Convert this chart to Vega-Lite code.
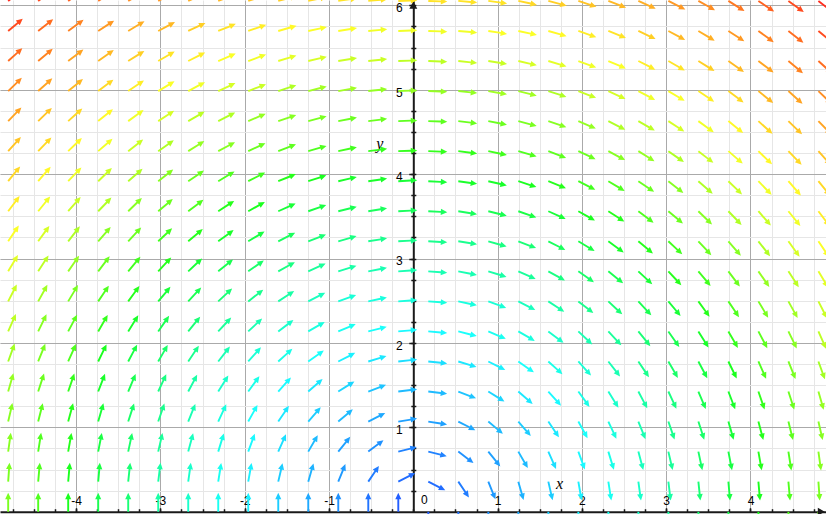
{
"$schema":"https://vega.github.io/schema/vega-lite/v6.json",
"width":826,"height":511.7,
"autosize":{"type":"none"},
"padding":{"left":0,"top":0,"right":0,"bottom":2.3},
"background":"#ffffff",
"config":{"view":{"stroke":null},"locale":{"number":{"decimal":".","thousands":",","grouping":[3],"currency":["$",""],"minus":"-"}}},
"resolve":{"scale":{"x":"independent","y":"independent"},"axis":{"x":"independent","y":"independent"}},
"data":{"values":[
{"x":-4.806,"y":0,"a":-90,"r":4.8},{"x":-4.45,"y":0,"a":-90,"r":4.5},{"x":-4.094,"y":0,"a":-90,"r":4.1},{"x":-3.738,"y":0,"a":-90,"r":3.7},{"x":-3.382,"y":0,"a":-90,"r":3.4},{"x":-3.026,"y":0,"a":-90,"r":3.0},{"x":-2.67,"y":0,"a":-90,"r":2.7},{"x":-2.314,"y":0,"a":-90,"r":2.3},{"x":-1.958,"y":0,"a":-90,"r":2.0},{"x":-1.602,"y":0,"a":-90,"r":1.6},{"x":-1.246,"y":0,"a":-90,"r":1.2},{"x":-0.89,"y":0,"a":-90,"r":0.9},{"x":-0.534,"y":0,"a":-90,"r":0.5},{"x":-0.178,"y":0,"a":-90,"r":0.2},
{"x":0.178,"y":0,"a":90,"r":0.2},{"x":0.534,"y":0,"a":90,"r":0.5},{"x":0.89,"y":0,"a":90,"r":0.9},{"x":1.246,"y":0,"a":90,"r":1.2},{"x":1.602,"y":0,"a":90,"r":1.6},{"x":1.958,"y":0,"a":90,"r":2.0},{"x":2.314,"y":0,"a":90,"r":2.3},{"x":2.67,"y":0,"a":90,"r":2.7},{"x":3.026,"y":0,"a":90,"r":3.0},{"x":3.382,"y":0,"a":90,"r":3.4},{"x":3.738,"y":0,"a":90,"r":3.7},{"x":4.094,"y":0,"a":90,"r":4.1},{"x":4.45,"y":0,"a":90,"r":4.5},{"x":4.806,"y":0,"a":90,"r":4.8},
{"x":-4.806,"y":0.356,"a":-86,"r":4.8},{"x":-4.45,"y":0.356,"a":-85,"r":4.5},{"x":-4.094,"y":0.356,"a":-85,"r":4.1},{"x":-3.738,"y":0.356,"a":-85,"r":3.8},{"x":-3.382,"y":0.356,"a":-84,"r":3.4},{"x":-3.026,"y":0.356,"a":-83,"r":3.0},{"x":-2.67,"y":0.356,"a":-82,"r":2.7},{"x":-2.314,"y":0.356,"a":-81,"r":2.3},{"x":-1.958,"y":0.356,"a":-80,"r":2.0},{"x":-1.602,"y":0.356,"a":-77,"r":1.6},{"x":-1.246,"y":0.356,"a":-74,"r":1.3},{"x":-0.89,"y":0.356,"a":-68,"r":1.0},{"x":-0.534,"y":0.356,"a":-56,"r":0.6},{"x":-0.178,"y":0.356,"a":-27,"r":0.4},
{"x":0.178,"y":0.356,"a":27,"r":0.4},{"x":0.534,"y":0.356,"a":56,"r":0.6},{"x":0.89,"y":0.356,"a":68,"r":1.0},{"x":1.246,"y":0.356,"a":74,"r":1.3},{"x":1.602,"y":0.356,"a":77,"r":1.6},{"x":1.958,"y":0.356,"a":80,"r":2.0},{"x":2.314,"y":0.356,"a":81,"r":2.3},{"x":2.67,"y":0.356,"a":82,"r":2.7},{"x":3.026,"y":0.356,"a":83,"r":3.0},{"x":3.382,"y":0.356,"a":84,"r":3.4},{"x":3.738,"y":0.356,"a":85,"r":3.8},{"x":4.094,"y":0.356,"a":85,"r":4.1},{"x":4.45,"y":0.356,"a":85,"r":4.5},{"x":4.806,"y":0.356,"a":86,"r":4.8},
{"x":-4.806,"y":0.712,"a":-82,"r":4.9},{"x":-4.45,"y":0.712,"a":-81,"r":4.5},{"x":-4.094,"y":0.712,"a":-80,"r":4.2},{"x":-3.738,"y":0.712,"a":-79,"r":3.8},{"x":-3.382,"y":0.712,"a":-78,"r":3.5},{"x":-3.026,"y":0.712,"a":-77,"r":3.1},{"x":-2.67,"y":0.712,"a":-75,"r":2.8},{"x":-2.314,"y":0.712,"a":-73,"r":2.4},{"x":-1.958,"y":0.712,"a":-70,"r":2.1},{"x":-1.602,"y":0.712,"a":-66,"r":1.8},{"x":-1.246,"y":0.712,"a":-60,"r":1.4},{"x":-0.89,"y":0.712,"a":-51,"r":1.1},{"x":-0.534,"y":0.712,"a":-37,"r":0.9},{"x":-0.178,"y":0.712,"a":-14,"r":0.7},
{"x":0.178,"y":0.712,"a":14,"r":0.7},{"x":0.534,"y":0.712,"a":37,"r":0.9},{"x":0.89,"y":0.712,"a":51,"r":1.1},{"x":1.246,"y":0.712,"a":60,"r":1.4},{"x":1.602,"y":0.712,"a":66,"r":1.8},{"x":1.958,"y":0.712,"a":70,"r":2.1},{"x":2.314,"y":0.712,"a":73,"r":2.4},{"x":2.67,"y":0.712,"a":75,"r":2.8},{"x":3.026,"y":0.712,"a":77,"r":3.1},{"x":3.382,"y":0.712,"a":78,"r":3.5},{"x":3.738,"y":0.712,"a":79,"r":3.8},{"x":4.094,"y":0.712,"a":80,"r":4.2},{"x":4.45,"y":0.712,"a":81,"r":4.5},{"x":4.806,"y":0.712,"a":82,"r":4.9},
{"x":-4.806,"y":1.068,"a":-77,"r":4.9},{"x":-4.45,"y":1.068,"a":-76,"r":4.6},{"x":-4.094,"y":1.068,"a":-75,"r":4.2},{"x":-3.738,"y":1.068,"a":-74,"r":3.9},{"x":-3.382,"y":1.068,"a":-72,"r":3.5},{"x":-3.026,"y":1.068,"a":-71,"r":3.2},{"x":-2.67,"y":1.068,"a":-68,"r":2.9},{"x":-2.314,"y":1.068,"a":-65,"r":2.5},{"x":-1.958,"y":1.068,"a":-61,"r":2.2},{"x":-1.602,"y":1.068,"a":-56,"r":1.9},{"x":-1.246,"y":1.068,"a":-49,"r":1.6},{"x":-0.89,"y":1.068,"a":-40,"r":1.4},{"x":-0.534,"y":1.068,"a":-27,"r":1.2},{"x":-0.178,"y":1.068,"a":-9,"r":1.1},
{"x":0.178,"y":1.068,"a":9,"r":1.1},{"x":0.534,"y":1.068,"a":27,"r":1.2},{"x":0.89,"y":1.068,"a":40,"r":1.4},{"x":1.246,"y":1.068,"a":49,"r":1.6},{"x":1.602,"y":1.068,"a":56,"r":1.9},{"x":1.958,"y":1.068,"a":61,"r":2.2},{"x":2.314,"y":1.068,"a":65,"r":2.5},{"x":2.67,"y":1.068,"a":68,"r":2.9},{"x":3.026,"y":1.068,"a":71,"r":3.2},{"x":3.382,"y":1.068,"a":72,"r":3.5},{"x":3.738,"y":1.068,"a":74,"r":3.9},{"x":4.094,"y":1.068,"a":75,"r":4.2},{"x":4.45,"y":1.068,"a":76,"r":4.6},{"x":4.806,"y":1.068,"a":77,"r":4.9},
{"x":-4.806,"y":1.424,"a":-74,"r":5.0},{"x":-4.45,"y":1.424,"a":-72,"r":4.7},{"x":-4.094,"y":1.424,"a":-71,"r":4.3},{"x":-3.738,"y":1.424,"a":-69,"r":4.0},{"x":-3.382,"y":1.424,"a":-67,"r":3.7},{"x":-3.026,"y":1.424,"a":-65,"r":3.3},{"x":-2.67,"y":1.424,"a":-62,"r":3.0},{"x":-2.314,"y":1.424,"a":-58,"r":2.7},{"x":-1.958,"y":1.424,"a":-54,"r":2.4},{"x":-1.602,"y":1.424,"a":-48,"r":2.1},{"x":-1.246,"y":1.424,"a":-41,"r":1.9},{"x":-0.89,"y":1.424,"a":-32,"r":1.7},{"x":-0.534,"y":1.424,"a":-21,"r":1.5},{"x":-0.178,"y":1.424,"a":-7,"r":1.4},
{"x":0.178,"y":1.424,"a":7,"r":1.4},{"x":0.534,"y":1.424,"a":21,"r":1.5},{"x":0.89,"y":1.424,"a":32,"r":1.7},{"x":1.246,"y":1.424,"a":41,"r":1.9},{"x":1.602,"y":1.424,"a":48,"r":2.1},{"x":1.958,"y":1.424,"a":54,"r":2.4},{"x":2.314,"y":1.424,"a":58,"r":2.7},{"x":2.67,"y":1.424,"a":62,"r":3.0},{"x":3.026,"y":1.424,"a":65,"r":3.3},{"x":3.382,"y":1.424,"a":67,"r":3.7},{"x":3.738,"y":1.424,"a":69,"r":4.0},{"x":4.094,"y":1.424,"a":71,"r":4.3},{"x":4.45,"y":1.424,"a":72,"r":4.7},{"x":4.806,"y":1.424,"a":74,"r":5.0},
{"x":-4.806,"y":1.78,"a":-70,"r":5.1},{"x":-4.45,"y":1.78,"a":-68,"r":4.8},{"x":-4.094,"y":1.78,"a":-66,"r":4.5},{"x":-3.738,"y":1.78,"a":-64,"r":4.1},{"x":-3.382,"y":1.78,"a":-62,"r":3.8},{"x":-3.026,"y":1.78,"a":-60,"r":3.5},{"x":-2.67,"y":1.78,"a":-56,"r":3.2},{"x":-2.314,"y":1.78,"a":-52,"r":2.9},{"x":-1.958,"y":1.78,"a":-48,"r":2.6},{"x":-1.602,"y":1.78,"a":-42,"r":2.4},{"x":-1.246,"y":1.78,"a":-35,"r":2.2},{"x":-0.89,"y":1.78,"a":-27,"r":2.0},{"x":-0.534,"y":1.78,"a":-17,"r":1.9},{"x":-0.178,"y":1.78,"a":-6,"r":1.8},
{"x":0.178,"y":1.78,"a":6,"r":1.8},{"x":0.534,"y":1.78,"a":17,"r":1.9},{"x":0.89,"y":1.78,"a":27,"r":2.0},{"x":1.246,"y":1.78,"a":35,"r":2.2},{"x":1.602,"y":1.78,"a":42,"r":2.4},{"x":1.958,"y":1.78,"a":48,"r":2.6},{"x":2.314,"y":1.78,"a":52,"r":2.9},{"x":2.67,"y":1.78,"a":56,"r":3.2},{"x":3.026,"y":1.78,"a":60,"r":3.5},{"x":3.382,"y":1.78,"a":62,"r":3.8},{"x":3.738,"y":1.78,"a":64,"r":4.1},{"x":4.094,"y":1.78,"a":66,"r":4.5},{"x":4.45,"y":1.78,"a":68,"r":4.8},{"x":4.806,"y":1.78,"a":70,"r":5.1},
{"x":-4.806,"y":2.136,"a":-66,"r":5.3},{"x":-4.45,"y":2.136,"a":-64,"r":4.9},{"x":-4.094,"y":2.136,"a":-62,"r":4.6},{"x":-3.738,"y":2.136,"a":-60,"r":4.3},{"x":-3.382,"y":2.136,"a":-58,"r":4.0},{"x":-3.026,"y":2.136,"a":-55,"r":3.7},{"x":-2.67,"y":2.136,"a":-51,"r":3.4},{"x":-2.314,"y":2.136,"a":-47,"r":3.1},{"x":-1.958,"y":2.136,"a":-43,"r":2.9},{"x":-1.602,"y":2.136,"a":-37,"r":2.7},{"x":-1.246,"y":2.136,"a":-30,"r":2.5},{"x":-0.89,"y":2.136,"a":-23,"r":2.3},{"x":-0.534,"y":2.136,"a":-14,"r":2.2},{"x":-0.178,"y":2.136,"a":-5,"r":2.1},
{"x":0.178,"y":2.136,"a":5,"r":2.1},{"x":0.534,"y":2.136,"a":14,"r":2.2},{"x":0.89,"y":2.136,"a":23,"r":2.3},{"x":1.246,"y":2.136,"a":30,"r":2.5},{"x":1.602,"y":2.136,"a":37,"r":2.7},{"x":1.958,"y":2.136,"a":43,"r":2.9},{"x":2.314,"y":2.136,"a":47,"r":3.1},{"x":2.67,"y":2.136,"a":51,"r":3.4},{"x":3.026,"y":2.136,"a":55,"r":3.7},{"x":3.382,"y":2.136,"a":58,"r":4.0},{"x":3.738,"y":2.136,"a":60,"r":4.3},{"x":4.094,"y":2.136,"a":62,"r":4.6},{"x":4.45,"y":2.136,"a":64,"r":4.9},{"x":4.806,"y":2.136,"a":66,"r":5.3},
{"x":-4.806,"y":2.492,"a":-63,"r":5.4},{"x":-4.45,"y":2.492,"a":-61,"r":5.1},{"x":-4.094,"y":2.492,"a":-59,"r":4.8},{"x":-3.738,"y":2.492,"a":-56,"r":4.5},{"x":-3.382,"y":2.492,"a":-54,"r":4.2},{"x":-3.026,"y":2.492,"a":-50,"r":3.9},{"x":-2.67,"y":2.492,"a":-47,"r":3.7},{"x":-2.314,"y":2.492,"a":-43,"r":3.4},{"x":-1.958,"y":2.492,"a":-38,"r":3.2},{"x":-1.602,"y":2.492,"a":-33,"r":3.0},{"x":-1.246,"y":2.492,"a":-27,"r":2.8},{"x":-0.89,"y":2.492,"a":-20,"r":2.6},{"x":-0.534,"y":2.492,"a":-12,"r":2.5},{"x":-0.178,"y":2.492,"a":-4,"r":2.5},
{"x":0.178,"y":2.492,"a":4,"r":2.5},{"x":0.534,"y":2.492,"a":12,"r":2.5},{"x":0.89,"y":2.492,"a":20,"r":2.6},{"x":1.246,"y":2.492,"a":27,"r":2.8},{"x":1.602,"y":2.492,"a":33,"r":3.0},{"x":1.958,"y":2.492,"a":38,"r":3.2},{"x":2.314,"y":2.492,"a":43,"r":3.4},{"x":2.67,"y":2.492,"a":47,"r":3.7},{"x":3.026,"y":2.492,"a":50,"r":3.9},{"x":3.382,"y":2.492,"a":54,"r":4.2},{"x":3.738,"y":2.492,"a":56,"r":4.5},{"x":4.094,"y":2.492,"a":59,"r":4.8},{"x":4.45,"y":2.492,"a":61,"r":5.1},{"x":4.806,"y":2.492,"a":63,"r":5.4},
{"x":-4.806,"y":2.848,"a":-59,"r":5.6},{"x":-4.45,"y":2.848,"a":-57,"r":5.3},{"x":-4.094,"y":2.848,"a":-55,"r":5.0},{"x":-3.738,"y":2.848,"a":-53,"r":4.7},{"x":-3.382,"y":2.848,"a":-50,"r":4.4},{"x":-3.026,"y":2.848,"a":-47,"r":4.2},{"x":-2.67,"y":2.848,"a":-43,"r":3.9},{"x":-2.314,"y":2.848,"a":-39,"r":3.7},{"x":-1.958,"y":2.848,"a":-35,"r":3.5},{"x":-1.602,"y":2.848,"a":-29,"r":3.3},{"x":-1.246,"y":2.848,"a":-24,"r":3.1},{"x":-0.89,"y":2.848,"a":-17,"r":3.0},{"x":-0.534,"y":2.848,"a":-11,"r":2.9},{"x":-0.178,"y":2.848,"a":-4,"r":2.9},
{"x":0.178,"y":2.848,"a":4,"r":2.9},{"x":0.534,"y":2.848,"a":11,"r":2.9},{"x":0.89,"y":2.848,"a":17,"r":3.0},{"x":1.246,"y":2.848,"a":24,"r":3.1},{"x":1.602,"y":2.848,"a":29,"r":3.3},{"x":1.958,"y":2.848,"a":35,"r":3.5},{"x":2.314,"y":2.848,"a":39,"r":3.7},{"x":2.67,"y":2.848,"a":43,"r":3.9},{"x":3.026,"y":2.848,"a":47,"r":4.2},{"x":3.382,"y":2.848,"a":50,"r":4.4},{"x":3.738,"y":2.848,"a":53,"r":4.7},{"x":4.094,"y":2.848,"a":55,"r":5.0},{"x":4.45,"y":2.848,"a":57,"r":5.3},{"x":4.806,"y":2.848,"a":59,"r":5.6},
{"x":-4.806,"y":3.204,"a":-56,"r":5.8},{"x":-4.45,"y":3.204,"a":-54,"r":5.5},{"x":-4.094,"y":3.204,"a":-52,"r":5.2},{"x":-3.738,"y":3.204,"a":-49,"r":4.9},{"x":-3.382,"y":3.204,"a":-47,"r":4.7},{"x":-3.026,"y":3.204,"a":-43,"r":4.4},{"x":-2.67,"y":3.204,"a":-40,"r":4.2},{"x":-2.314,"y":3.204,"a":-36,"r":4.0},{"x":-1.958,"y":3.204,"a":-31,"r":3.8},{"x":-1.602,"y":3.204,"a":-27,"r":3.6},{"x":-1.246,"y":3.204,"a":-21,"r":3.4},{"x":-0.89,"y":3.204,"a":-16,"r":3.3},{"x":-0.534,"y":3.204,"a":-9,"r":3.2},{"x":-0.178,"y":3.204,"a":-3,"r":3.2},
{"x":0.178,"y":3.204,"a":3,"r":3.2},{"x":0.534,"y":3.204,"a":9,"r":3.2},{"x":0.89,"y":3.204,"a":16,"r":3.3},{"x":1.246,"y":3.204,"a":21,"r":3.4},{"x":1.602,"y":3.204,"a":27,"r":3.6},{"x":1.958,"y":3.204,"a":31,"r":3.8},{"x":2.314,"y":3.204,"a":36,"r":4.0},{"x":2.67,"y":3.204,"a":40,"r":4.2},{"x":3.026,"y":3.204,"a":43,"r":4.4},{"x":3.382,"y":3.204,"a":47,"r":4.7},{"x":3.738,"y":3.204,"a":49,"r":4.9},{"x":4.094,"y":3.204,"a":52,"r":5.2},{"x":4.45,"y":3.204,"a":54,"r":5.5},{"x":4.806,"y":3.204,"a":56,"r":5.8},
{"x":-4.806,"y":3.56,"a":-53,"r":6.0},{"x":-4.45,"y":3.56,"a":-51,"r":5.7},{"x":-4.094,"y":3.56,"a":-49,"r":5.4},{"x":-3.738,"y":3.56,"a":-46,"r":5.2},{"x":-3.382,"y":3.56,"a":-44,"r":4.9},{"x":-3.026,"y":3.56,"a":-40,"r":4.7},{"x":-2.67,"y":3.56,"a":-37,"r":4.5},{"x":-2.314,"y":3.56,"a":-33,"r":4.2},{"x":-1.958,"y":3.56,"a":-29,"r":4.1},{"x":-1.602,"y":3.56,"a":-24,"r":3.9},{"x":-1.246,"y":3.56,"a":-19,"r":3.8},{"x":-0.89,"y":3.56,"a":-14,"r":3.7},{"x":-0.534,"y":3.56,"a":-9,"r":3.6},{"x":-0.178,"y":3.56,"a":-3,"r":3.6},
{"x":0.178,"y":3.56,"a":3,"r":3.6},{"x":0.534,"y":3.56,"a":9,"r":3.6},{"x":0.89,"y":3.56,"a":14,"r":3.7},{"x":1.246,"y":3.56,"a":19,"r":3.8},{"x":1.602,"y":3.56,"a":24,"r":3.9},{"x":1.958,"y":3.56,"a":29,"r":4.1},{"x":2.314,"y":3.56,"a":33,"r":4.2},{"x":2.67,"y":3.56,"a":37,"r":4.5},{"x":3.026,"y":3.56,"a":40,"r":4.7},{"x":3.382,"y":3.56,"a":44,"r":4.9},{"x":3.738,"y":3.56,"a":46,"r":5.2},{"x":4.094,"y":3.56,"a":49,"r":5.4},{"x":4.45,"y":3.56,"a":51,"r":5.7},{"x":4.806,"y":3.56,"a":53,"r":6.0},
{"x":-4.806,"y":3.916,"a":-51,"r":6.2},{"x":-4.45,"y":3.916,"a":-49,"r":5.9},{"x":-4.094,"y":3.916,"a":-46,"r":5.7},{"x":-3.738,"y":3.916,"a":-44,"r":5.4},{"x":-3.382,"y":3.916,"a":-41,"r":5.2},{"x":-3.026,"y":3.916,"a":-38,"r":4.9},{"x":-2.67,"y":3.916,"a":-34,"r":4.7},{"x":-2.314,"y":3.916,"a":-31,"r":4.5},{"x":-1.958,"y":3.916,"a":-27,"r":4.4},{"x":-1.602,"y":3.916,"a":-22,"r":4.2},{"x":-1.246,"y":3.916,"a":-18,"r":4.1},{"x":-0.89,"y":3.916,"a":-13,"r":4.0},{"x":-0.534,"y":3.916,"a":-8,"r":4.0},{"x":-0.178,"y":3.916,"a":-3,"r":3.9},
{"x":0.178,"y":3.916,"a":3,"r":3.9},{"x":0.534,"y":3.916,"a":8,"r":4.0},{"x":0.89,"y":3.916,"a":13,"r":4.0},{"x":1.246,"y":3.916,"a":18,"r":4.1},{"x":1.602,"y":3.916,"a":22,"r":4.2},{"x":1.958,"y":3.916,"a":27,"r":4.4},{"x":2.314,"y":3.916,"a":31,"r":4.5},{"x":2.67,"y":3.916,"a":34,"r":4.7},{"x":3.026,"y":3.916,"a":38,"r":4.9},{"x":3.382,"y":3.916,"a":41,"r":5.2},{"x":3.738,"y":3.916,"a":44,"r":5.4},{"x":4.094,"y":3.916,"a":46,"r":5.7},{"x":4.45,"y":3.916,"a":49,"r":5.9},{"x":4.806,"y":3.916,"a":51,"r":6.2},
{"x":-4.806,"y":4.272,"a":-48,"r":6.4},{"x":-4.45,"y":4.272,"a":-46,"r":6.2},{"x":-4.094,"y":4.272,"a":-44,"r":5.9},{"x":-3.738,"y":4.272,"a":-41,"r":5.7},{"x":-3.382,"y":4.272,"a":-38,"r":5.4},{"x":-3.026,"y":4.272,"a":-35,"r":5.2},{"x":-2.67,"y":4.272,"a":-32,"r":5.0},{"x":-2.314,"y":4.272,"a":-28,"r":4.9},{"x":-1.958,"y":4.272,"a":-25,"r":4.7},{"x":-1.602,"y":4.272,"a":-21,"r":4.6},{"x":-1.246,"y":4.272,"a":-16,"r":4.5},{"x":-0.89,"y":4.272,"a":-12,"r":4.4},{"x":-0.534,"y":4.272,"a":-7,"r":4.3},{"x":-0.178,"y":4.272,"a":-2,"r":4.3},
{"x":0.178,"y":4.272,"a":2,"r":4.3},{"x":0.534,"y":4.272,"a":7,"r":4.3},{"x":0.89,"y":4.272,"a":12,"r":4.4},{"x":1.246,"y":4.272,"a":16,"r":4.5},{"x":1.602,"y":4.272,"a":21,"r":4.6},{"x":1.958,"y":4.272,"a":25,"r":4.7},{"x":2.314,"y":4.272,"a":28,"r":4.9},{"x":2.67,"y":4.272,"a":32,"r":5.0},{"x":3.026,"y":4.272,"a":35,"r":5.2},{"x":3.382,"y":4.272,"a":38,"r":5.4},{"x":3.738,"y":4.272,"a":41,"r":5.7},{"x":4.094,"y":4.272,"a":44,"r":5.9},{"x":4.45,"y":4.272,"a":46,"r":6.2},{"x":4.806,"y":4.272,"a":48,"r":6.4},
{"x":-4.806,"y":4.628,"a":-46,"r":6.7},{"x":-4.45,"y":4.628,"a":-44,"r":6.4},{"x":-4.094,"y":4.628,"a":-42,"r":6.2},{"x":-3.738,"y":4.628,"a":-39,"r":5.9},{"x":-3.382,"y":4.628,"a":-36,"r":5.7},{"x":-3.026,"y":4.628,"a":-33,"r":5.5},{"x":-2.67,"y":4.628,"a":-30,"r":5.3},{"x":-2.314,"y":4.628,"a":-27,"r":5.2},{"x":-1.958,"y":4.628,"a":-23,"r":5.0},{"x":-1.602,"y":4.628,"a":-19,"r":4.9},{"x":-1.246,"y":4.628,"a":-15,"r":4.8},{"x":-0.89,"y":4.628,"a":-11,"r":4.7},{"x":-0.534,"y":4.628,"a":-7,"r":4.7},{"x":-0.178,"y":4.628,"a":-2,"r":4.6},
{"x":0.178,"y":4.628,"a":2,"r":4.6},{"x":0.534,"y":4.628,"a":7,"r":4.7},{"x":0.89,"y":4.628,"a":11,"r":4.7},{"x":1.246,"y":4.628,"a":15,"r":4.8},{"x":1.602,"y":4.628,"a":19,"r":4.9},{"x":1.958,"y":4.628,"a":23,"r":5.0},{"x":2.314,"y":4.628,"a":27,"r":5.2},{"x":2.67,"y":4.628,"a":30,"r":5.3},{"x":3.026,"y":4.628,"a":33,"r":5.5},{"x":3.382,"y":4.628,"a":36,"r":5.7},{"x":3.738,"y":4.628,"a":39,"r":5.9},{"x":4.094,"y":4.628,"a":42,"r":6.2},{"x":4.45,"y":4.628,"a":44,"r":6.4},{"x":4.806,"y":4.628,"a":46,"r":6.7},
{"x":-4.806,"y":4.984,"a":-44,"r":6.9},{"x":-4.45,"y":4.984,"a":-42,"r":6.7},{"x":-4.094,"y":4.984,"a":-39,"r":6.5},{"x":-3.738,"y":4.984,"a":-37,"r":6.2},{"x":-3.382,"y":4.984,"a":-34,"r":6.0},{"x":-3.026,"y":4.984,"a":-31,"r":5.8},{"x":-2.67,"y":4.984,"a":-28,"r":5.7},{"x":-2.314,"y":4.984,"a":-25,"r":5.5},{"x":-1.958,"y":4.984,"a":-21,"r":5.4},{"x":-1.602,"y":4.984,"a":-18,"r":5.2},{"x":-1.246,"y":4.984,"a":-14,"r":5.1},{"x":-0.89,"y":4.984,"a":-10,"r":5.1},{"x":-0.534,"y":4.984,"a":-6,"r":5.0},{"x":-0.178,"y":4.984,"a":-2,"r":5.0},
{"x":0.178,"y":4.984,"a":2,"r":5.0},{"x":0.534,"y":4.984,"a":6,"r":5.0},{"x":0.89,"y":4.984,"a":10,"r":5.1},{"x":1.246,"y":4.984,"a":14,"r":5.1},{"x":1.602,"y":4.984,"a":18,"r":5.2},{"x":1.958,"y":4.984,"a":21,"r":5.4},{"x":2.314,"y":4.984,"a":25,"r":5.5},{"x":2.67,"y":4.984,"a":28,"r":5.7},{"x":3.026,"y":4.984,"a":31,"r":5.8},{"x":3.382,"y":4.984,"a":34,"r":6.0},{"x":3.738,"y":4.984,"a":37,"r":6.2},{"x":4.094,"y":4.984,"a":39,"r":6.5},{"x":4.45,"y":4.984,"a":42,"r":6.7},{"x":4.806,"y":4.984,"a":44,"r":6.9},
{"x":-4.806,"y":5.34,"a":-42,"r":7.2},{"x":-4.45,"y":5.34,"a":-40,"r":7.0},{"x":-4.094,"y":5.34,"a":-37,"r":6.7},{"x":-3.738,"y":5.34,"a":-35,"r":6.5},{"x":-3.382,"y":5.34,"a":-32,"r":6.3},{"x":-3.026,"y":5.34,"a":-30,"r":6.1},{"x":-2.67,"y":5.34,"a":-27,"r":6.0},{"x":-2.314,"y":5.34,"a":-23,"r":5.8},{"x":-1.958,"y":5.34,"a":-20,"r":5.7},{"x":-1.602,"y":5.34,"a":-17,"r":5.6},{"x":-1.246,"y":5.34,"a":-13,"r":5.5},{"x":-0.89,"y":5.34,"a":-9,"r":5.4},{"x":-0.534,"y":5.34,"a":-6,"r":5.4},{"x":-0.178,"y":5.34,"a":-2,"r":5.3},
{"x":0.178,"y":5.34,"a":2,"r":5.3},{"x":0.534,"y":5.34,"a":6,"r":5.4},{"x":0.89,"y":5.34,"a":9,"r":5.4},{"x":1.246,"y":5.34,"a":13,"r":5.5},{"x":1.602,"y":5.34,"a":17,"r":5.6},{"x":1.958,"y":5.34,"a":20,"r":5.7},{"x":2.314,"y":5.34,"a":23,"r":5.8},{"x":2.67,"y":5.34,"a":27,"r":6.0},{"x":3.026,"y":5.34,"a":30,"r":6.1},{"x":3.382,"y":5.34,"a":32,"r":6.3},{"x":3.738,"y":5.34,"a":35,"r":6.5},{"x":4.094,"y":5.34,"a":37,"r":6.7},{"x":4.45,"y":5.34,"a":40,"r":7.0},{"x":4.806,"y":5.34,"a":42,"r":7.2},
{"x":-4.806,"y":5.696,"a":-40,"r":7.5},{"x":-4.45,"y":5.696,"a":-38,"r":7.2},{"x":-4.094,"y":5.696,"a":-36,"r":7.0},{"x":-3.738,"y":5.696,"a":-33,"r":6.8},{"x":-3.382,"y":5.696,"a":-31,"r":6.6},{"x":-3.026,"y":5.696,"a":-28,"r":6.5},{"x":-2.67,"y":5.696,"a":-25,"r":6.3},{"x":-2.314,"y":5.696,"a":-22,"r":6.1},{"x":-1.958,"y":5.696,"a":-19,"r":6.0},{"x":-1.602,"y":5.696,"a":-16,"r":5.9},{"x":-1.246,"y":5.696,"a":-12,"r":5.8},{"x":-0.89,"y":5.696,"a":-9,"r":5.8},{"x":-0.534,"y":5.696,"a":-5,"r":5.7},{"x":-0.178,"y":5.696,"a":-2,"r":5.7},
{"x":0.178,"y":5.696,"a":2,"r":5.7},{"x":0.534,"y":5.696,"a":5,"r":5.7},{"x":0.89,"y":5.696,"a":9,"r":5.8},{"x":1.246,"y":5.696,"a":12,"r":5.8},{"x":1.602,"y":5.696,"a":16,"r":5.9},{"x":1.958,"y":5.696,"a":19,"r":6.0},{"x":2.314,"y":5.696,"a":22,"r":6.1},{"x":2.67,"y":5.696,"a":25,"r":6.3},{"x":3.026,"y":5.696,"a":28,"r":6.5},{"x":3.382,"y":5.696,"a":31,"r":6.6},{"x":3.738,"y":5.696,"a":33,"r":6.8},{"x":4.094,"y":5.696,"a":36,"r":7.0},{"x":4.45,"y":5.696,"a":38,"r":7.2},{"x":4.806,"y":5.696,"a":40,"r":7.5},
{"x":-4.806,"y":6.052,"a":-38,"r":7.7},{"x":-4.45,"y":6.052,"a":-36,"r":7.5},{"x":-4.094,"y":6.052,"a":-34,"r":7.3},{"x":-3.738,"y":6.052,"a":-32,"r":7.1},{"x":-3.382,"y":6.052,"a":-29,"r":6.9},{"x":-3.026,"y":6.052,"a":-27,"r":6.8},{"x":-2.67,"y":6.052,"a":-24,"r":6.6},{"x":-2.314,"y":6.052,"a":-21,"r":6.5},{"x":-1.958,"y":6.052,"a":-18,"r":6.4},{"x":-1.602,"y":6.052,"a":-15,"r":6.3},{"x":-1.246,"y":6.052,"a":-12,"r":6.2},{"x":-0.89,"y":6.052,"a":-8,"r":6.1},{"x":-0.534,"y":6.052,"a":-5,"r":6.1},{"x":-0.178,"y":6.052,"a":-2,"r":6.1},
{"x":0.178,"y":6.052,"a":2,"r":6.1},{"x":0.534,"y":6.052,"a":5,"r":6.1},{"x":0.89,"y":6.052,"a":8,"r":6.1},{"x":1.246,"y":6.052,"a":12,"r":6.2},{"x":1.602,"y":6.052,"a":15,"r":6.3},{"x":1.958,"y":6.052,"a":18,"r":6.4},{"x":2.314,"y":6.052,"a":21,"r":6.5},{"x":2.67,"y":6.052,"a":24,"r":6.6},{"x":3.026,"y":6.052,"a":27,"r":6.8},{"x":3.382,"y":6.052,"a":29,"r":6.9},{"x":3.738,"y":6.052,"a":32,"r":7.1},{"x":4.094,"y":6.052,"a":34,"r":7.3},{"x":4.45,"y":6.052,"a":36,"r":7.5},{"x":4.806,"y":6.052,"a":38,"r":7.7}
]},
"layer":[
{"data":{"values":[{}]},"mark":{"type":"point","opacity":0},
 "encoding":{
  "x":{"datum":0,"type":"quantitative","scale":{"domain":[-4.903,4.896],"nice":false,"zero":false},
   "axis":{"orient":"bottom","values":[-4.75,-4.5,-4.25,-4,-3.75,-3.5,-3.25,-3,-2.75,-2.5,-2.25,-2,-1.75,-1.5,-1.25,-1,-0.75,-0.5,-0.25,0,0.25,0.5,0.75,1,1.25,1.5,1.75,2,2.25,2.5,2.75,3,3.25,3.5,3.75,4,4.25,4.5,4.75],
    "grid":true,"gridColor":"#e6e6e6","gridWidth":1,"domain":false,"labels":false,
    "ticks":true,"tickColor":"#1a1a1a","tickWidth":1.5,"tickSize":-3,"title":null}},
  "y":{"datum":0,"type":"quantitative","scale":{"domain":[0,6.063],"nice":false,"zero":false},
   "axis":{"orient":"left","offset":-413.3,"values":[0.25,0.5,0.75,1,1.25,1.5,1.75,2,2.25,2.5,2.75,3,3.25,3.5,3.75,4,4.25,4.5,4.75,5,5.25,5.5,5.75,6],
    "grid":true,"gridColor":"#e6e6e6","gridWidth":1,"domain":false,"labels":false,
    "ticks":true,"tickColor":"#1a1a1a","tickWidth":1.5,"tickSize":2.5,"title":null}}
 }},
{"mark":{"type":"point","shape":"M0,-0.05L0.66,-0.05L0.66,-0.16L1,0L0.66,0.16L0.66,0.05L0,0.05Z","filled":true,"size":1444,"opacity":1},
 "encoding":{
  "x":{"field":"x","type":"quantitative","scale":{"domain":[-4.903,4.896],"nice":false,"zero":false},
   "axis":{"orient":"bottom","values":[-4,-3,-2,-1,1,2,3,4],"format":"d",
    "grid":true,"gridColor":"#aaaaaa","gridWidth":1,
    "domainColor":"#1a1a1a","domainWidth":2,
    "ticks":true,"tickColor":"#1a1a1a","tickWidth":1.5,"tickSize":-4,
    "labelFont":"Liberation Sans","labelFontSize":12,"labelColor":"#000000",
    "labelBaseline":"middle","labelAlign":"center","labelPadding":-7.7,
    "labelFlush":false,"labelOverlap":false,"labelBound":false,
    "title":"x","titleFont":"Liberation Serif","titleFontStyle":"italic","titleFontWeight":"normal","titleFontSize":16,"titleColor":"#000000",
    "titleX":559,"titleY":-28,"titleAlign":"center","titleBaseline":"middle","titleAngle":0}},
  "y":{"field":"y","type":"quantitative","scale":{"domain":[0,6.063],"nice":false,"zero":false},
   "axis":{"orient":"left","offset":-413.3,"values":[1,2,3,4,5,6],"format":"d",
    "grid":true,"gridColor":"#aaaaaa","gridWidth":1,
    "domainColor":"#1a1a1a","domainWidth":2,
    "ticks":true,"tickColor":"#1a1a1a","tickWidth":1.5,"tickSize":4.5,
    "labelFont":"Liberation Sans","labelFontSize":12,"labelColor":"#000000",
    "labelAlign":"right","labelBaseline":"middle","labelPadding":6.5,"labelOffset":2.4,
    "labelFlush":false,"labelOverlap":false,"labelBound":false,
    "title":"y","titleFont":"Liberation Serif","titleFontStyle":"italic","titleFontWeight":"normal","titleFontSize":16,"titleColor":"#000000",
    "titleAngle":0,"titleX":-34,"titleY":143,"titleAlign":"center","titleBaseline":"middle"}},
  "angle":{"field":"a","type":"quantitative","scale":null},
  "color":{"field":"r","type":"quantitative","legend":null,
   "scale":{"domain":[0,1.2,2.65,3.9,5.7,7.5,7.8],"range":["hsl(228,100%,57%)","hsl(203,100%,56%)","hsl(168,100%,55%)","hsl(128,100%,55%)","hsl(64,100%,58%)","hsl(12,100%,56%)","hsl(0,100%,56%)"],"interpolate":"hsl"}}
 }},
{"data":{"values":[{}]},"mark":{"type":"point","opacity":0},
 "encoding":{
  "y":{"datum":0,"type":"quantitative","scale":{"domain":[0,6.063],"nice":false,"zero":false},
   "axis":{"orient":"right","offset":-412.7,"values":[0.25,0.5,0.75,1,1.25,1.5,1.75,2,2.25,2.5,2.75,3,3.25,3.5,3.75,4,4.25,4.5,4.75,5,5.25,5.5,5.75,6],
    "grid":false,"domain":false,"labels":false,
    "ticks":true,"tickColor":"#1a1a1a","tickWidth":1.5,"tickSize":2.5,"title":null}}
 }},
{"data":{"values":[{}]},"mark":{"type":"point","shape":"triangle-up","filled":true,"color":"#1a1a1a","size":64,"opacity":1},
 "encoding":{"x":{"datum":0,"type":"quantitative","scale":{"domain":[-4.903,4.896],"nice":false,"zero":false},"axis":null},"y":{"datum":6.0,"type":"quantitative","scale":{"domain":[0,6.063],"nice":false,"zero":false},"axis":null}}},
{"data":{"values":[{}]},"mark":{"type":"point","shape":"triangle-right","filled":true,"color":"#1a1a1a","size":64,"opacity":1},
 "encoding":{"x":{"datum":4.84,"type":"quantitative","scale":{"domain":[-4.903,4.896],"nice":false,"zero":false},"axis":null},"y":{"datum":0,"type":"quantitative","scale":{"domain":[0,6.063],"nice":false,"zero":false},"axis":null}}},
{"data":{"values":[{}]},"mark":{"type":"text","text":"0","font":"Liberation Sans","fontSize":12,"color":"#000000","align":"center","baseline":"middle","dx":11,"dy":-11.7},
 "encoding":{"x":{"datum":0,"type":"quantitative","scale":{"domain":[-4.903,4.896],"nice":false,"zero":false},"axis":null},"y":{"datum":0,"type":"quantitative","scale":{"domain":[0,6.063],"nice":false,"zero":false},"axis":null}}}
]
}
